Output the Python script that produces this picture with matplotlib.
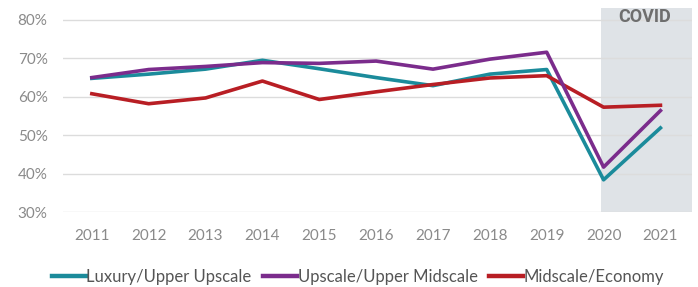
import matplotlib.pyplot as plt
from matplotlib.ticker import FuncFormatter

# données (taux d'occupation, %)
annees = [2011, 2012, 2013, 2014, 2015, 2016, 2017, 2018, 2019, 2020, 2021]
luxury = [64.8, 65.9, 67.2, 69.5, 67.3, 65.0, 62.9, 65.9, 67.1, 38.4, 51.9]
upscale = [65.0, 67.1, 67.9, 68.9, 68.7, 69.3, 67.2, 69.8, 71.6, 41.7, 56.4]
midscale = [60.8, 58.2, 59.7, 64.1, 59.3, 61.3, 63.2, 64.9, 65.5, 57.3, 57.8]
series_names = ["Luxury/Upper Upscale", "Upscale/Upper Midscale", "Midscale/Economy"]
y_ticks = [30, 40, 50, 60, 70, 80]

plt.rcParams['font.family'] = ['Lato', 'DejaVu Sans']
gris = "#8a8a8a"

fig = plt.figure(figsize=(6.98, 2.87), dpi=100)
ax = fig.add_axes([0.09, 0.261, 0.901, 0.711])

# zone COVID
ax.axvspan(2019.96, 2021.6, color="#dfe3e7", zorder=0, lw=0)
ax.text(2020.72, 83.0, "COVID", ha="center", va="top", fontsize=13,
        fontweight="bold", color="#6e6e6e", family=['Roboto', 'DejaVu Sans'])

for yv in y_ticks:
    ax.axhline(yv, color="#dcdcdc", lw=1, zorder=1)

ax.plot(annees, luxury, color="#1b8b9b", lw=2.6, label=series_names[0], zorder=3)
ax.plot(annees, upscale, color="#7b2c8c", lw=2.6, label=series_names[1], zorder=4)
ax.plot(annees, midscale, color="#b81e24", lw=2.6, label=series_names[2], zorder=3)

ax.set_xlim(2010.49, 2021.55)
ax.set_ylim(30, 83.1)
ax.set_xticks(annees)
ax.set_yticks(y_ticks)
ax.yaxis.set_major_formatter(FuncFormatter(lambda v, p: f"{v:.0f}%"))
ax.tick_params(axis="both", length=0, labelsize=11, labelcolor=gris)
ax.tick_params(axis="x", pad=12)
ax.tick_params(axis="y", pad=11)
for s in ax.spines.values():
    s.set_visible(False)

leg = fig.legend(loc="center", bbox_to_anchor=(0.513, 0.035), ncol=3, frameon=False,
                 fontsize=12, handlelength=2.0, handletextpad=0.05, columnspacing=0.7,
                 borderpad=0)
for t in leg.get_texts():
    t.set_color("#555555")
for l in leg.get_lines():
    l.set_linewidth(3.2)

fig.savefig("out.png", dpi=100)
